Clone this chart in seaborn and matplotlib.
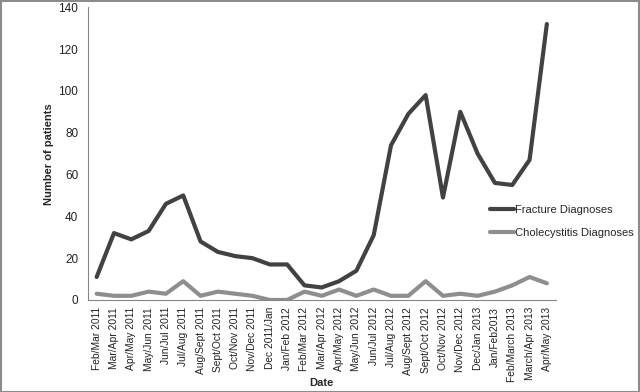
import matplotlib
matplotlib.use("Agg")
import matplotlib.pyplot as plt
import matplotlib.patches as patches
from matplotlib.lines import Line2D
import seaborn as sns
import pandas as pd
import numpy as np

periods = ["Feb/Mar 2011", "Mar/Apr 2011", "Apr/May 2011", "May/Jun 2011", "Jun/Jul 2011",
           "Jul/Aug 2011", "Aug/Sept 2011", "Sept/Oct 2011", "Oct/Nov 2011", "Nov/Dec 2011",
           "Dec 2011/Jan", "Jan/Feb 2012", "Feb/Mar 2012", "Mar/Apr 2012", "Apr/May 2012",
           "May/Jun 2012", "Jun/Jul 2012", "Jul/Aug 2012", "Aug/Sept 2012", "Sept/Oct 2012",
           "Oct/Nov 2012", "Nov/Dec 2012", "Dec/Jan 2013", "Jan/Feb2013", "Feb/March 2013",
           "March/Apr 2013", "Apr/May 2013"]
fracture = [11, 32, 29, 33, 46, 50, 28, 23, 21, 20, 17, 17, 7, 6, 9, 14,
            31, 74, 89, 98, 49, 90, 70, 56, 55, 67, 132]
cholecystitis = [3, 2, 2, 4, 3, 9, 2, 4, 3, 2, 0, 0, 4, 2, 5, 2,
                 5, 2, 2, 9, 2, 3, 2, 4, 7, 11, 8]
series_names = ["Fracture Diagnoses", "Cholecystitis Diagnoses"]
y_ticks = [0, 20, 40, 60, 80, 100, 120, 140]

idx = np.arange(len(periods))
df = pd.DataFrame({
    "x": np.concatenate([idx, idx]),
    "value": fracture + cholecystitis,
    "series": [series_names[0]] * len(periods) + [series_names[1]] * len(periods),
})

sns.set_style("white")
plt.rcParams["font.family"] = ["Liberation Sans", "DejaVu Sans"]

fig = plt.figure(figsize=(6.4, 3.92), dpi=100)
ax = fig.add_axes([0.1375, 0.2347, 0.868 - 0.1375, 0.9814 - 0.2347])

palette = {series_names[0]: "#424242", series_names[1]: "#8e8e8e"}
sns.lineplot(data=df, x="x", y="value", hue="series", palette=palette,
             linewidth=3.0, ax=ax, legend=False, sort=False)

ax.set_xlim(-0.5, len(periods) - 0.5)
ax.set_ylim(0, 140)
ax.set_yticks(y_ticks)
ax.set_yticklabels([str(t) for t in y_ticks], fontsize=8.5, color="#222222")
ax.set_xticks(idx)
ax.set_xticklabels(periods, rotation=90, fontsize=7.4, color="#222222")
ax.set_xticks(np.arange(-0.5, len(periods), 1.0), minor=True)
ax.tick_params(axis="x", which="major", length=0, pad=5)
ax.tick_params(axis="x", which="minor", length=4, color="#868686", width=0.8, direction="out")
ax.tick_params(axis="y", which="major", length=4, color="#868686", width=0.8, direction="out", pad=3)

for s in ["top", "right"]:
    ax.spines[s].set_visible(False)
for s in ["left", "bottom"]:
    ax.spines[s].set_color("#868686")
    ax.spines[s].set_linewidth(0.8)

ax.set_xlabel("Date", fontsize=8, fontweight="bold")
ax.xaxis.set_label_coords(0.5, -0.268)
ax.set_ylabel("Number of patients", fontsize=8, fontweight="bold")
ax.yaxis.set_label_coords(-0.072, 0.5)

handles = [Line2D([], [], color=palette[n], linewidth=3.0) for n in series_names]
fig.legend(handles, series_names, loc="upper left", bbox_to_anchor=(0.766, 0.478),
           frameon=False, fontsize=8, handlelength=2.1, handletextpad=0.1,
           labelspacing=1.2, borderpad=0, borderaxespad=0)

fig.patches.append(patches.Rectangle((0.001, 0.001), 0.998, 0.997, transform=fig.transFigure,
                                     fill=False, edgecolor="#8c8c8c", linewidth=1.5))

fig.savefig("out.png", dpi=100)
